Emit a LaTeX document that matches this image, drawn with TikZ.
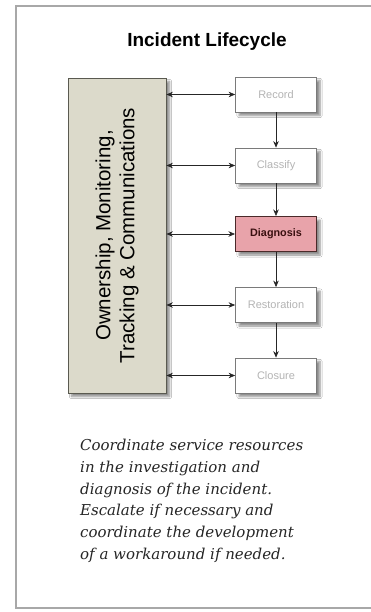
\documentclass[tikz,border=0pt]{standalone}
\usepackage{fontspec}
\setmainfont{Liberation Sans}
\newfontfamily\notefont{DejaVu Serif}
\usetikzlibrary{arrows.meta,shadows.blur}
\definecolor{frameg}{HTML}{A8A8A8}
\definecolor{khaki}{HTML}{DCDACB}
\definecolor{khakiline}{HTML}{5A5A50}
\definecolor{boxline}{HTML}{7A7A7A}
\definecolor{labelg}{HTML}{B4B4B4}
\definecolor{pinkfill}{HTML}{E8A3AA}
\definecolor{pinkline}{HTML}{4A2A2A}
\definecolor{darkred}{HTML}{3A1010}
\tikzset{
  shad/.style={blur shadow={shadow xshift=3.5pt, shadow yshift=-3.5pt, shadow blur steps=6, shadow opacity=45}},
  stagebox/.style={shad, draw=boxline, line width=0.8pt, fill=white, minimum width=81pt, minimum height=35pt, inner sep=0pt, font=\fontsize{11}{13}\selectfont, text=labelg},
  activebox/.style={stagebox, draw=pinkline, line width=1pt, fill=pinkfill, text=darkred, font=\fontsize{10.8}{13}\selectfont\bfseries},
  dbl/.style={{Stealth[length=6.5pt,width=5.5pt]}-{Stealth[length=6.5pt,width=5.5pt]}, line width=0.6pt, draw=black!85},
  down/.style={-{Stealth[length=6.5pt,width=5.5pt]}, line width=0.6pt, draw=black!85},
}
\begin{document}
\begin{tikzpicture}[x=1pt,y=-1pt]
\useasboundingbox (0,0) rectangle (371,612);
\fill[white] (0,0) rectangle (371,612);
% frame
\draw[frameg, line width=1.5pt] (380,6) -- (16,6) -- (16,608) -- (380,608);
% title
\node[font=\fontsize{19}{22}\selectfont\bfseries] (title) at (207,42) {Incident Lifecycle};
% left box
\node[shad, draw=khakiline, line width=0.8pt, fill=khaki, minimum width=98pt, minimum height=315pt, inner sep=0pt] (own) at (117,235.5) {};
\node[rotate=90, align=center, font=\fontsize{20.5}{24}\selectfont] (ownt) at (117,235.5) {Ownership, Monitoring,\\Tracking \& Communications};
% stages
\node[stagebox] (rec) at (276,94.5) {Record};
\node[stagebox] (cla) at (276,165.5) {Classify};
\node[activebox] (dia) at (276,234) {Diagnosis};
\node[stagebox] (res) at (276,305) {Restoration};
\node[stagebox] (clo) at (276,375.5) {Closure};
% double arrows
\foreach \n in {rec,cla,dia,res,clo}{
  \draw[dbl] (own.east |- \n.west) -- (\n.west);
}
% vertical arrows
\draw[down] (rec) -- (cla);
\draw[down] (cla) -- (dia);
\draw[down] (dia) -- (res);
\draw[down] (res) -- (clo);
% note
\node[anchor=north west, align=left, inner sep=0pt, font=\notefont\itshape\fontsize{15}{21.7}\selectfont, text=black!85] (note) at (80,439) {Coordinate service resources\\in the investigation and\\diagnosis of the incident.\\Escalate if necessary and\\coordinate the development\\of a workaround if needed.};
\end{tikzpicture}
\end{document}
